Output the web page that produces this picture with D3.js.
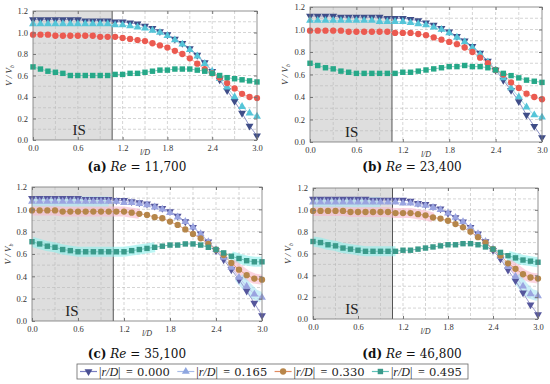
<!DOCTYPE html>
<html>
<head>
<meta charset="utf-8">
<script src="https://cdn.jsdelivr.net/npm/d3@7"></script>
<style>
  body { margin: 0; background: #fff; }
  svg { display: block; }
</style>
</head>
<body>
<div id="chart"></div>
<script>
// sample positions along the pipe, l/D
const lD = [0.0, 0.1, 0.2, 0.3, 0.4, 0.5, 0.6, 0.7, 0.8, 0.9, 1.0, 1.1, 1.2, 1.3, 1.4, 1.5,
            1.6, 1.7, 1.8, 1.9, 2.0, 2.1, 2.2, 2.3, 2.4, 2.5, 2.6, 2.7, 2.8, 2.9, 3.0];

// V/Vb for |r/D| = 0.000, 0.165, 0.330, 0.495
const a000 = [1.12, 1.12, 1.12, 1.12, 1.12, 1.12, 1.12, 1.11, 1.11, 1.11, 1.11, 1.10, 1.10, 1.09, 1.08, 1.06,
              1.04, 1.01, 0.98, 0.94, 0.90, 0.85, 0.79, 0.72, 0.64, 0.56, 0.46, 0.36, 0.25, 0.13, 0.04];
const a165 = [1.08, 1.08, 1.08, 1.08, 1.08, 1.08, 1.08, 1.08, 1.08, 1.08, 1.08, 1.07, 1.07, 1.06, 1.05, 1.04,
              1.02, 1.00, 0.97, 0.93, 0.89, 0.84, 0.78, 0.71, 0.64, 0.57, 0.49, 0.40, 0.31, 0.25, 0.22];
const a330 = [0.98, 0.98, 0.98, 0.97, 0.97, 0.97, 0.97, 0.97, 0.97, 0.96, 0.96, 0.96, 0.95, 0.94, 0.93, 0.92,
              0.90, 0.88, 0.86, 0.83, 0.80, 0.76, 0.71, 0.66, 0.62, 0.58, 0.53, 0.48, 0.43, 0.40, 0.39];
const a495 = [0.68, 0.66, 0.64, 0.63, 0.62, 0.60, 0.60, 0.60, 0.60, 0.60, 0.60, 0.61, 0.61, 0.62, 0.62, 0.63,
              0.64, 0.65, 0.65, 0.66, 0.66, 0.66, 0.65, 0.64, 0.62, 0.60, 0.58, 0.57, 0.56, 0.55, 0.54];

const b000 = [1.12, 1.12, 1.12, 1.12, 1.11, 1.11, 1.11, 1.11, 1.11, 1.11, 1.10, 1.10, 1.10, 1.09, 1.08, 1.06,
              1.04, 1.01, 0.98, 0.94, 0.90, 0.85, 0.79, 0.72, 0.64, 0.55, 0.46, 0.36, 0.24, 0.14, 0.04];
const b165 = [1.08, 1.08, 1.08, 1.08, 1.08, 1.08, 1.08, 1.08, 1.08, 1.07, 1.07, 1.07, 1.07, 1.06, 1.05, 1.04,
              1.02, 1.00, 0.97, 0.93, 0.89, 0.84, 0.78, 0.71, 0.64, 0.57, 0.48, 0.40, 0.31, 0.24, 0.22];
const b330 = [0.99, 0.99, 0.99, 0.99, 0.99, 0.98, 0.98, 0.98, 0.98, 0.98, 0.98, 0.97, 0.97, 0.97, 0.96, 0.95,
              0.93, 0.91, 0.89, 0.87, 0.84, 0.80, 0.75, 0.70, 0.64, 0.60, 0.53, 0.48, 0.43, 0.40, 0.38];
const b495 = [0.70, 0.68, 0.66, 0.65, 0.63, 0.62, 0.61, 0.61, 0.61, 0.61, 0.61, 0.61, 0.62, 0.62, 0.63, 0.64,
              0.65, 0.66, 0.67, 0.67, 0.68, 0.67, 0.67, 0.66, 0.64, 0.61, 0.59, 0.57, 0.55, 0.54, 0.53];

const c000 = [1.10, 1.10, 1.10, 1.10, 1.10, 1.10, 1.10, 1.09, 1.09, 1.09, 1.09, 1.08, 1.08, 1.07, 1.06, 1.05,
              1.03, 1.01, 0.98, 0.94, 0.89, 0.84, 0.78, 0.71, 0.63, 0.55, 0.46, 0.37, 0.27, 0.16, 0.05];
const c165 = [1.07, 1.07, 1.07, 1.07, 1.07, 1.07, 1.07, 1.07, 1.07, 1.07, 1.07, 1.07, 1.06, 1.06, 1.05, 1.04,
              1.02, 1.00, 0.97, 0.93, 0.89, 0.84, 0.78, 0.71, 0.64, 0.57, 0.48, 0.39, 0.31, 0.24, 0.21];
const c330 = [0.99, 0.99, 0.99, 0.99, 0.98, 0.98, 0.98, 0.98, 0.98, 0.98, 0.98, 0.98, 0.98, 0.97, 0.96, 0.95,
              0.93, 0.92, 0.89, 0.86, 0.82, 0.78, 0.74, 0.69, 0.64, 0.59, 0.52, 0.46, 0.41, 0.38, 0.37];
const c495 = [0.71, 0.69, 0.67, 0.66, 0.64, 0.63, 0.62, 0.62, 0.62, 0.62, 0.62, 0.62, 0.62, 0.63, 0.64, 0.65,
              0.66, 0.67, 0.68, 0.68, 0.69, 0.69, 0.68, 0.66, 0.64, 0.61, 0.58, 0.56, 0.54, 0.53, 0.53];

const d000 = [1.10, 1.10, 1.10, 1.10, 1.10, 1.10, 1.10, 1.10, 1.09, 1.09, 1.09, 1.09, 1.09, 1.08, 1.06, 1.05,
              1.03, 1.01, 0.97, 0.93, 0.89, 0.84, 0.78, 0.71, 0.63, 0.55, 0.45, 0.35, 0.24, 0.13, 0.04];
const d165 = [1.07, 1.07, 1.07, 1.07, 1.07, 1.07, 1.07, 1.07, 1.07, 1.07, 1.07, 1.07, 1.06, 1.06, 1.05, 1.04,
              1.02, 1.00, 0.97, 0.93, 0.89, 0.84, 0.78, 0.71, 0.64, 0.57, 0.48, 0.39, 0.30, 0.23, 0.21];
const d330 = [0.99, 0.99, 0.99, 0.99, 0.99, 0.98, 0.98, 0.98, 0.98, 0.98, 0.98, 0.97, 0.97, 0.97, 0.96, 0.95,
              0.93, 0.92, 0.90, 0.87, 0.84, 0.80, 0.75, 0.70, 0.64, 0.58, 0.51, 0.46, 0.41, 0.38, 0.37];
const d495 = [0.71, 0.70, 0.68, 0.67, 0.65, 0.64, 0.63, 0.62, 0.62, 0.62, 0.62, 0.62, 0.63, 0.63, 0.64, 0.65,
              0.66, 0.67, 0.68, 0.68, 0.69, 0.69, 0.68, 0.66, 0.64, 0.61, 0.58, 0.56, 0.54, 0.53, 0.52];

const rLabels = ["0.000", "0.165", "0.330", "0.495"];
const panelTags = ["a", "b", "c", "d"];
const reLabels = ["11,700", "23,400", "35,100", "46,800"];
const isEnd = 1.06;        // end of the inlet section
const xTicks = [0.0, 0.6, 1.2, 1.8, 2.4, 3.0];
const yTicks = [0.0, 0.2, 0.4, 0.6, 0.8, 1.0, 1.2];

// translucent strips seen in panels c and d: [series index, from l/D, to l/D]
const cBands = [[3, 0.0, 1.6], [3, 2.6, 3.0], [2, 0.0, 1.4], [2, 2.6, 3.0], [1, 0.0, 1.0], [1, 2.7, 3.0]];
const dBands = [[3, 0.0, 1.1], [3, 2.6, 3.0], [2, 0.0, 1.6], [2, 2.6, 3.0], [1, 0.0, 0.9], [1, 2.7, 3.0]];

// styles: two colour schemes (a,b) and (c,d)
const schemeAB = [
  { fill: "#3f4d88", line: "#8e94c8", shape: "down" },
  { fill: "#55c5d8", line: "#a3dde8", shape: "up" },
  { fill: "#eb5a50", line: "#f2a4a0", shape: "circle" },
  { fill: "#26a888", line: "#80d0c0", shape: "square" }
];
const schemeCD = [
  { fill: "#55569c", line: "#9c9cd0", shape: "down", band: "#b8c8f0" },
  { fill: "#9aa4e0", line: "#c2c8ee", shape: "up", band: "#a8e4f4" },
  { fill: "#b5864a", line: "#e4a080", shape: "circle", band: "#f8b8cc" },
  { fill: "#3a9a8a", line: "#70c6bc", shape: "square", band: "#8ef0ec" }
];
const legendStyle = [
  { fill: "#4a4f92", line: "#7a7fc2", shape: "down" },
  { fill: "#8ea6e0", line: "#a8bce8", shape: "up" },
  { fill: "#b8864a", line: "#e08a60", shape: "circle" },
  { fill: "#3a9a8a", line: "#60c0b8", shape: "square" }
];

const panels = [
  { series: [a000, a165, a330, a495], box: { l: 33, t: 11, r: 257, b: 140 }, scheme: schemeAB, bands: [], isX: 0.62, cap: { x: 137, y: 171 }, ylab: 12 },
  { series: [b000, b165, b330, b495], box: { l: 310, t: 7, r: 542, b: 142 }, scheme: schemeAB, bands: [], isX: 0.54, cap: { x: 412, y: 171 }, ylab: 288 },
  { series: [c000, c165, c330, c495], box: { l: 32, t: 187, r: 262, b: 321 }, scheme: schemeCD, bands: cBands, isX: 0.52, cap: { x: 137, y: 358 }, ylab: 11 },
  { series: [d000, d165, d330, d495], box: { l: 313, t: 188, r: 538, b: 319 }, scheme: schemeCD, bands: dBands, isX: 0.52, cap: { x: 412, y: 358 }, ylab: 291 }
];

const W = 550, H = 384;
const svg = d3.select("#chart").append("svg").attr("width", W).attr("height", H);

function marker(sel, shape, fill, size) {
  if (shape === "circle") {
    sel.append("circle").attr("r", size * 0.45).attr("fill", fill);
  } else if (shape === "square") {
    sel.append("path").attr("d", d3.symbol(d3.symbolSquare, size * size * 0.6)()).attr("fill", fill);
  } else {
    sel.append("path")
      .attr("d", d3.symbol(d3.symbolTriangle, size * size * 0.55)())
      .attr("transform", shape === "down" ? "rotate(180)" : null)
      .attr("fill", fill);
  }
}

panels.forEach((p, pi) => {
  const x = d3.scaleLinear().domain([0, 3]).range([p.box.l, p.box.r]);
  const y = d3.scaleLinear().domain([0, 1.2]).range([p.box.b, p.box.t]);
  const g = svg.append("g");
  const clipId = "clip" + pi;
  g.append("clipPath").attr("id", clipId).append("rect")
    .attr("x", p.box.l).attr("y", p.box.t)
    .attr("width", p.box.r - p.box.l).attr("height", p.box.b - p.box.t);

  // inlet section shading
  g.append("rect")
    .attr("x", x(0)).attr("y", y(1.2))
    .attr("width", x(isEnd) - x(0)).attr("height", y(0) - y(1.2))
    .attr("fill", "#dedede");

  // dashed grid
  g.append("g").selectAll("line").data(d3.range(1, 12).map(i => i / 10)).join("line")
    .attr("x1", p.box.l).attr("x2", p.box.r)
    .attr("y1", d => y(d)).attr("y2", d => y(d))
    .attr("stroke", "#b8b8b8").attr("stroke-width", 0.6).attr("stroke-dasharray", "3,2");
  g.append("g").selectAll("line").data(d3.range(1, 10).map(i => i * 0.3)).join("line")
    .attr("y1", p.box.t).attr("y2", p.box.b)
    .attr("x1", d => x(d)).attr("x2", d => x(d))
    .attr("stroke", "#b8b8b8").attr("stroke-width", 0.6).attr("stroke-dasharray", "3,2");

  g.append("line")
    .attr("x1", x(isEnd)).attr("x2", x(isEnd)).attr("y1", y(1.2)).attr("y2", y(0))
    .attr("stroke", "#555").attr("stroke-width", 1);

  const line = d3.line().x((d, i) => x(lD[i])).y(d => y(d));

  // translucent strips
  p.bands.forEach(([si, x0, x1]) => {
    const pts = p.series[si].filter((v, i) => lD[i] >= x0 - 1e-9 && lD[i] <= x1 + 1e-9);
    const xs = lD.filter(v => v >= x0 - 1e-9 && v <= x1 + 1e-9);
    g.append("path")
      .attr("d", d3.line().x((d, i) => x(xs[i])).y(d => y(d))(pts))
      .attr("fill", "none")
      .attr("stroke", p.scheme[si].band)
      .attr("stroke-width", 10)
      .attr("stroke-linecap", "butt")
      .attr("opacity", 0.6)
      .attr("clip-path", `url(#${clipId})`);
  });

  p.series.forEach((s, si) => {
    const st = p.scheme[si];
    g.append("path").attr("d", line(s))
      .attr("fill", "none").attr("stroke", st.line).attr("stroke-width", 1);
  });
  p.series.forEach((s, si) => {
    const st = p.scheme[si];
    g.append("g").selectAll("g").data(s).join("g")
      .attr("transform", (d, i) => `translate(${x(lD[i])},${y(d)})`)
      .each(function () { marker(d3.select(this), st.shape, st.fill, 7); });
  });

  // frame and axes
  g.append("rect")
    .attr("x", p.box.l).attr("y", p.box.t)
    .attr("width", p.box.r - p.box.l).attr("height", p.box.b - p.box.t)
    .attr("fill", "none").attr("stroke", "#777").attr("stroke-width", 0.8);

  const tickStyle = a => {
    a.attr("font-family", "'Liberation Serif', serif");
    a.select(".domain").remove();
    a.selectAll(".tick line").attr("stroke", "#777");
    a.selectAll(".tick text").attr("fill", "#333")
      .style("font-family", "'Liberation Serif', serif").style("font-size", "8.5px");
  };
  g.append("g").attr("transform", `translate(0,${p.box.b})`)
    .call(d3.axisBottom(x).tickValues(xTicks).tickFormat(d3.format(".1f")).tickSizeInner(-3).tickSizeOuter(0).tickPadding(5))
    .call(tickStyle);
  g.append("g").attr("transform", `translate(${p.box.l},0)`)
    .call(d3.axisLeft(y).tickValues(yTicks).tickFormat(d3.format(".1f")).tickSizeInner(-3).tickSizeOuter(0).tickPadding(5))
    .call(tickStyle);
  g.append("g").attr("transform", `translate(0,${p.box.t})`)
    .call(d3.axisTop(x).tickValues(xTicks).tickFormat("").tickSizeInner(-3).tickSizeOuter(0))
    .call(tickStyle);
  g.append("g").attr("transform", `translate(${p.box.r},0)`)
    .call(d3.axisRight(y).tickValues(yTicks).tickFormat("").tickSizeInner(-3).tickSizeOuter(0))
    .call(tickStyle);

  // IS label
  g.append("text")
    .attr("x", x(p.isX)).attr("y", p.box.b - 5)
    .attr("text-anchor", "middle")
    .style("font-family", "'Liberation Serif', serif").style("font-size", "15px")
    .attr("fill", "#222").text("IS");

  // axis titles
  g.append("text")
    .attr("x", (p.box.l + p.box.r) / 2).attr("y", p.box.b + 15)
    .attr("text-anchor", "middle")
    .style("font-family", "'Liberation Serif', serif").style("font-size", "8px")
    .style("font-style", "italic").attr("fill", "#333").text("l/D");
  const yl = g.append("text")
    .attr("transform", `translate(${p.ylab},${(p.box.t + p.box.b) / 2}) rotate(-90)`)
    .attr("text-anchor", "middle")
    .style("font-family", "'Liberation Serif', serif").style("font-size", "9px")
    .style("font-style", "italic").attr("fill", "#333");
  yl.append("tspan").text("V / V");
  yl.append("tspan").attr("dy", 2).style("font-size", "6px").text("b");

  // caption
  const cap = svg.append("text")
    .attr("x", p.cap.x).attr("y", p.cap.y)
    .attr("text-anchor", "middle")
    .style("font-family", "'DejaVu Serif', serif").style("font-size", "12px")
    .attr("fill", "#111");
  cap.append("tspan").style("font-weight", "bold").text(`(${panelTags[pi]})`);
  cap.append("tspan").style("font-style", "italic").text(" Re");
  cap.append("tspan").text(` = ${reLabels[pi]}`);
});

// legend
const leg = svg.append("g");
leg.append("rect").attr("x", 77).attr("y", 364).attr("width", 391).attr("height", 15)
  .attr("fill", "#fff").attr("stroke", "#666").attr("stroke-width", 0.8);
rLabels.forEach((lab, i) => {
  const s = 80 + i * 97.3, cy = 371.5;
  const st = legendStyle[i];
  leg.append("line").attr("x1", s).attr("x2", s + 17).attr("y1", cy).attr("y2", cy)
    .attr("stroke", st.line).attr("stroke-width", 1.2);
  const m = leg.append("g").attr("transform", `translate(${s + 8.5},${cy})`);
  marker(m, st.shape, st.fill, 7);
  const t = leg.append("text").attr("y", cy + 4)
    .style("font-family", "'Liberation Serif', serif").style("font-size", "12px").attr("fill", "#222");
  t.append("tspan").attr("x", s + 19).text("|");
  t.append("tspan").style("font-style", "italic").text("r/D");
  t.append("tspan").text("|");
  t.append("tspan").attr("x", s + 46).text("=");
  t.append("tspan").attr("x", s + 57).style("font-family", "'DejaVu Serif', serif")
    .style("font-size", "11.5px").text(lab);
});
</script>
</body>
</html>
